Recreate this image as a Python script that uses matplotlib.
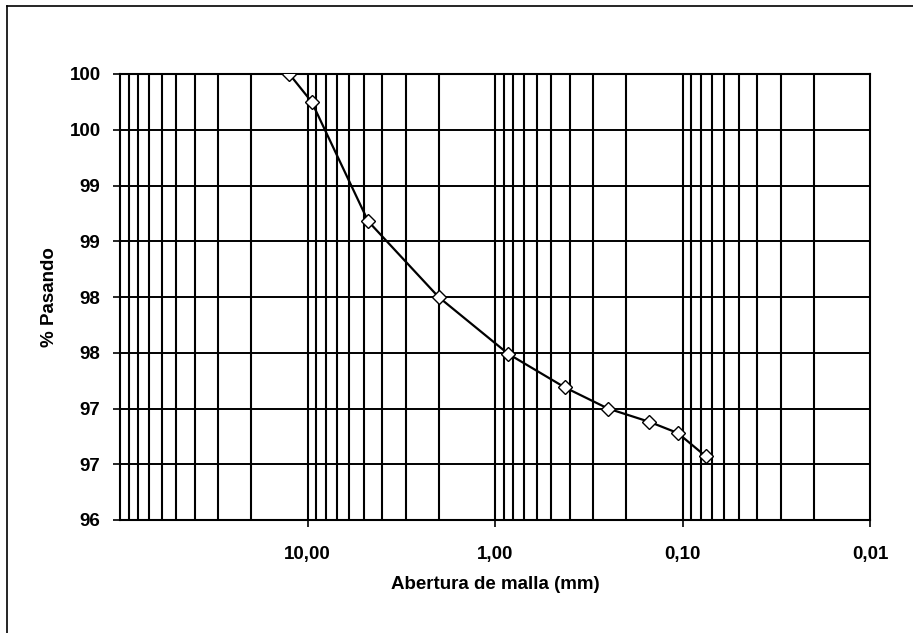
import matplotlib.pyplot as plt
import numpy as np
from matplotlib.ticker import FixedLocator, FuncFormatter
from matplotlib.lines import Line2D

plt.rcParams['font.family'] = ['Liberation Sans', 'DejaVu Sans']
plt.rcParams['font.weight'] = 'bold'

# abertura de tamiz (mm) y porcentaje que pasa
abertura = [12.5, 9.5, 4.75, 2.0, 0.85, 0.425, 0.25, 0.15, 0.106, 0.075]
pasando = [100.0, 99.75, 98.68, 98.0, 97.49, 97.19, 97.0, 96.88, 96.78, 96.57]

x_ticks = [10, 1, 0.1, 0.01]
x_tick_labels = ['10,00', '1,00', '0,10', '0,01']
y_ticks = np.arange(96, 100.01, 0.5)

fig = plt.figure(figsize=(9.13, 6.33), dpi=100)
ax = fig.add_axes([120 / 913, 1 - 520 / 633, 750 / 913, 446 / 633])

ax.set_xscale('log')
ax.set_xlim(100, 0.01)
ax.set_ylim(96, 100)

# rejilla vertical: cada 1..9 de cada década
grid_x = [m * 10.0 ** e for e in range(-2, 2) for m in range(1, 10)]
for gx in grid_x:
    if 0.01 < gx < 100:
        ax.axvline(gx, color='black', lw=1.5, zorder=1)
for gy in y_ticks[1:-1]:
    ax.axhline(gy, color='black', lw=1.4, zorder=1)

ax.plot(abertura, pasando, color='black', lw=1.6, zorder=3,
        marker='D', markersize=7, markerfacecolor='white',
        markeredgecolor='black', markeredgewidth=1.0)

ax.xaxis.set_major_locator(FixedLocator(x_ticks))
ax.xaxis.set_minor_locator(FixedLocator([]))
ax.set_xticklabels(x_tick_labels)
ax.yaxis.set_major_locator(FixedLocator(y_ticks))
# etiquetas redondeadas a entero (medio hacia arriba)
ax.yaxis.set_major_formatter(FuncFormatter(lambda v, p: '%d' % int(np.floor(v + 0.5))))

ax.tick_params(axis='both', direction='out', length=5, width=1.2,
               labelsize=13.5, colors='black')
ax.tick_params(axis='x', pad=14)
ax.tick_params(axis='y', pad=9)

for s in ax.spines.values():
    s.set_linewidth(1.5)
    s.set_color('black')

ax.set_xlabel('Abertura de malla (mm)', fontsize=13.5, fontweight='bold', labelpad=9)
ax.set_ylabel('% Pasando', fontsize=13.5, fontweight='bold', labelpad=8)

# marco del área del gráfico
fig.add_artist(Line2D([6.5 / 913, 6.5 / 913], [0, 1 - 5.5 / 633],
                      transform=fig.transFigure, color='black', lw=1.2))
fig.add_artist(Line2D([6.5 / 913, 1], [1 - 5.5 / 633, 1 - 5.5 / 633],
                      transform=fig.transFigure, color='black', lw=1.2))

fig.savefig('out.png', dpi=100)
